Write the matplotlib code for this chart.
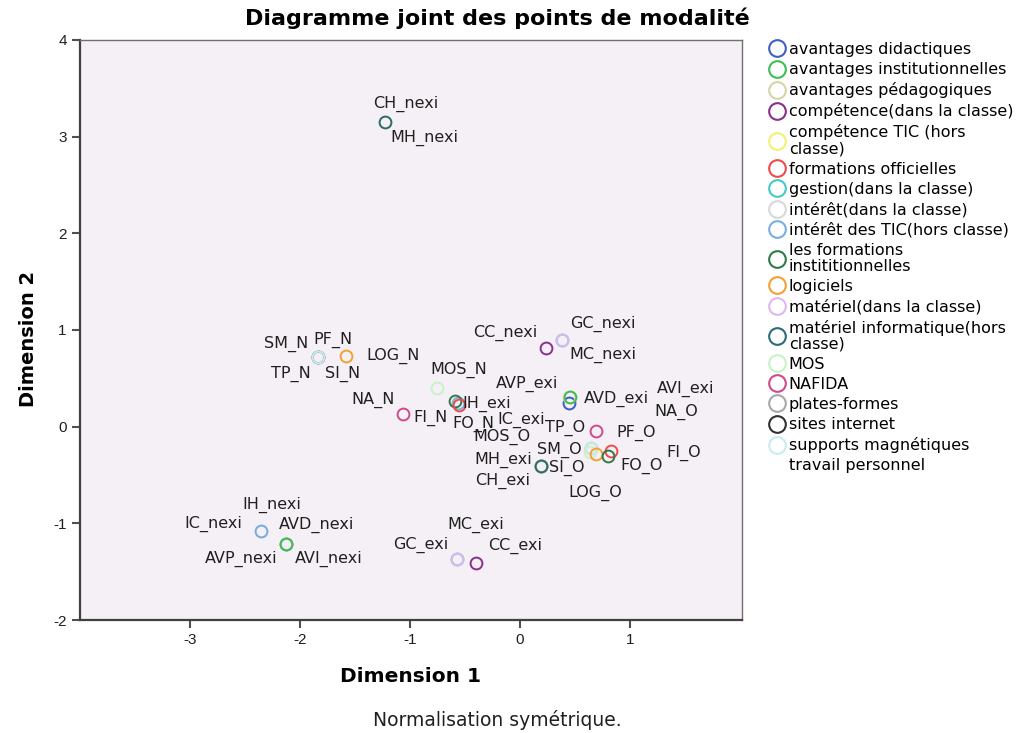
import matplotlib
matplotlib.use("Agg")
import matplotlib.pyplot as plt
from matplotlib.lines import Line2D

plt.rcParams['font.family'] = ['DejaVu Sans']
plt.rcParams['axes.unicode_minus'] = False

# Legend categories (variables) and colours
categories = [
    "avantages didactiques", "avantages institutionnelles", "avantages pédagogiques",
    "compétence(dans la classe)", "compétence TIC (hors\nclasse)", "formations officielles",
    "gestion(dans la classe)", "intérêt(dans la classe)", "intérêt des TIC(hors classe)",
    "les formations\ninstititionnelles", "logiciels", "matériel(dans la classe)",
    "matériel informatique(hors\nclasse)", "MOS", "NAFIDA", "plates-formes",
    "sites internet", "supports magnétiques", "travail personnel",
]
prefixes = ["AVD", "AVI", "AVP", "CC", "CH", "FO", "GC", "IC", "IH", "FI", "LOG",
            "MC", "MH", "MOS", "NA", "PF", "SI", "SM", "TP"]
colors = ['#3f5fc8', '#3dbe55', '#d8d3a8', '#8a2f8c', '#f4f070', '#f04a4a',
          '#45c8c8', '#d8d8d8', '#78aee2', '#2e7a4a', '#f5a030', '#dcb8f0',
          '#2a6a7a', '#c8f2c8', '#d04a8a', '#a8a8a8', '#303030', '#c8ecf0', 'none']

# Modality points (drawn in this order)
names = ["SI_N", "SI_O", "TP_N", "TP_O", "CH_nexi", "MH_nexi", "CC_nexi", "GC_nexi",
         "MC_nexi", "PF_N", "SM_N", "LOG_N", "MOS_N", "NA_N", "IH_exi", "FI_N",
         "FO_N", "IC_exi", "AVD_exi", "AVP_exi", "AVI_exi", "NA_O", "PF_O", "SM_O",
         "MOS_O", "LOG_O", "FO_O", "FI_O", "CH_exi", "MH_exi", "IC_nexi", "IH_nexi",
         "AVD_nexi", "AVP_nexi", "AVI_nexi", "GC_exi", "MC_exi", "CC_exi"]
dim1 = [-1.84, 0.19, -1.84, 0.65, -1.23, -1.23, 0.24, 0.38,
        0.38, -1.84, -1.84, -1.58, -0.75, -1.06, -0.56, -0.59,
        -0.55, 0.45, 0.45, 0.45, 0.46, 0.69, 0.65, 0.65,
        0.64, 0.69, 0.83, 0.80, 0.19, 0.19, -2.35, -2.35,
        -2.13, -2.13, -2.13, -0.57, -0.57, -0.40]
dim2 = [0.72, -0.41, 0.72, -0.22, 3.15, 3.15, 0.81, 0.90,
        0.90, 0.72, 0.72, 0.73, 0.40, 0.13, 0.24, 0.27,
        0.22, 0.24, 0.24, 0.31, 0.31, -0.04, -0.22, -0.22,
        -0.26, -0.28, -0.25, -0.30, -0.41, -0.41, -1.08, -1.08,
        -1.21, -1.21, -1.21, -1.37, -1.37, -1.41]
# label offsets in pixels relative to the point (dx right, dy up)
label_dx = [25, 26, -27, -26, 21, 40, -41, 41,
            41, 15, -31, 47, 21, -30, 28, -24,
            14, -48, 47, -42, 115, 81, 45, -32,
            -88, 0, 30, 76, -38, -38, -48, 10,
            31, -44, 43, -36, 19, 39]
label_dy = [-17, -2, -17, 20, 18, -16, 15, 16,
            -15, 17, 13, 0, 18, 14, 0, -17,
            -18, -16, 5, 13, 8, 19, 15, -2,
            15, -39, -15, 3, -15, 6, 7, 26,
            19, -15, -15, 14, 34, 17]

fig = plt.figure(figsize=(10.33, 7.33), dpi=100)
ax = fig.add_axes([80 / 1033, 1 - 620 / 733, 662 / 1033, 580 / 733])
ax.set_facecolor('#f5f0f5')
ax.set_xlim(-4, 2.02)
ax.set_ylim(-2, 4)
ax.set_xticks([-3, -2, -1, 0, 1])
ax.set_yticks([-2, -1, 0, 1, 2, 3, 4])
ax.tick_params(direction='out', length=6, width=1.5, color='#505050',
               labelsize=11, labelcolor='#202020')
for lbl in ax.get_xticklabels() + ax.get_yticklabels():
    lbl.set_family('Liberation Sans')
for s in ['left', 'bottom']:
    ax.spines[s].set_color('#404040')
    ax.spines[s].set_linewidth(1.6)
for s in ['top', 'right']:
    ax.spines[s].set_color('#707070')
    ax.spines[s].set_linewidth(1.0)

for n, x, y, dx, dy in zip(names, dim1, dim2, label_dx, label_dy):
    c = colors[prefixes.index(n.split('_')[0])]
    ax.plot([x], [y], marker='o', ls='none', mfc='none', mec=c, ms=8.5, mew=1.4)
    ax.annotate(n, (x, y), xytext=(dx, dy), textcoords='offset pixels',
                ha='center', va='center', fontsize=11.5, color='#202020')

handles = [Line2D([], [], marker='o', ls='none', mfc='none', mec=c, ms=12, mew=1.5)
           for c in colors]
leg = fig.legend(handles, categories, loc='upper left',
                 bbox_to_anchor=(768 / 1033, 1 - 42 / 733), frameon=False,
                 fontsize=11.5, handletextpad=0.2, handlelength=1.1, labelspacing=0.32,
                 borderaxespad=0, borderpad=0)
for t in leg.get_texts():
    t.set_linespacing(1.08)

fig.text(497 / 1033, 1 - 18 / 733, "Diagramme joint des points de modalité",
         ha='center', va='center', fontsize=16, fontweight='bold')
fig.text(411 / 1033, 1 - 676 / 733, "Dimension 1", ha='center', va='center',
         fontsize=14.5, fontweight='bold')
fig.text(28 / 1033, 1 - 339 / 733, "Dimension 2", ha='center', va='center',
         fontsize=14, fontweight='bold', rotation=90)
fig.text(497 / 1033, 1 - 720 / 733, "Normalisation symétrique.", ha='center',
         va='center', fontsize=13.5, color='#202020')

fig.savefig("out.png", dpi=100)
